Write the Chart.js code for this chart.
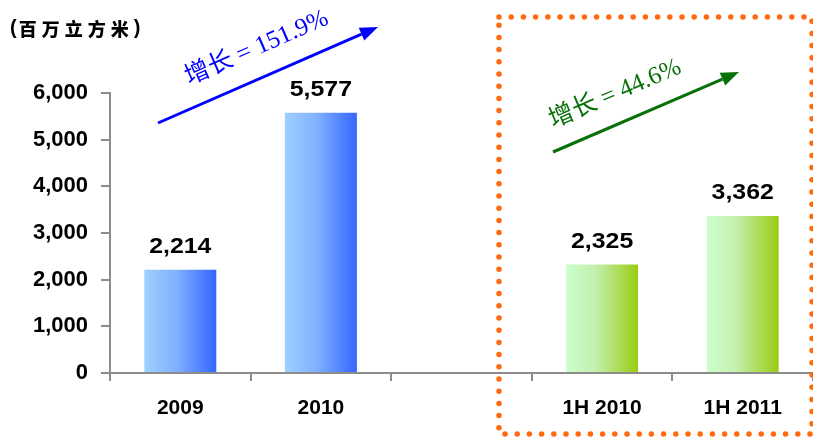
<!DOCTYPE html>
<html>
<head>
<meta charset="utf-8">
<script src="https://cdn.jsdelivr.net/npm/chart.js@4.4.1/dist/chart.umd.min.js"></script>
<style>
  html, body { margin: 0; padding: 0; background: #fff; }
  #wrap { position: relative; width: 813px; height: 437px; }
</style>
</head>
<body>
<div id="wrap"><canvas id="volChart" width="813" height="437"></canvas></div>
<script>
// 产量数据 (百万立方米)
const categories = ["2009", "2010", "", "1H 2010", "1H 2011"];
const volumes = [2214, 5577, null, 2325, 3362];
const yTicksMax = 6000;
const yTickStep = 1000;
const unitLabel = "(百万立方米)";
const growthLabels = ["增长 = 151.9%", "增长 = 44.6%"];

const BAR_PCT = 0.512;

// horizontal gradient per bar: blue for full years, green for half years
function barFill(ctx) {
    const chart = ctx.chart;
    const xs = chart.scales.x;
    if (!xs || !chart.chartArea) return "#6699ff";
    const cx = xs.getPixelForValue(ctx.dataIndex);
    const half = (xs.width / categories.length) * BAR_PCT / 2;
    const g = chart.ctx.createLinearGradient(cx - half, 0, cx + half, 0);
    if (ctx.dataIndex < 2) {
        g.addColorStop(0, "#9fd0ff");
        g.addColorStop(0.45, "#80b0ff");
        g.addColorStop(1, "#3366ff");
    } else {
        g.addColorStop(0, "#ccffcc");
        g.addColorStop(0.4, "#c4f0b0");
        g.addColorStop(1, "#99cc11");
    }
    return g;
}

function drawArrow(c, x0, y0, x1, y1, color) {
    const a = Math.atan2(y1 - y0, x1 - x0);
    const headLen = 18, headW = 7;
    const bx = x1 - headLen * Math.cos(a), by = y1 - headLen * Math.sin(a);
    c.save();
    c.strokeStyle = color;
    c.fillStyle = color;
    c.lineWidth = 3;
    c.beginPath();
    c.moveTo(x0, y0);
    c.lineTo(bx, by);
    c.stroke();
    c.beginPath();
    c.moveTo(x1, y1);
    c.lineTo(bx + headW * Math.sin(a), by - headW * Math.cos(a));
    c.lineTo(bx - headW * Math.sin(a), by + headW * Math.cos(a));
    c.closePath();
    c.fill();
    c.restore();
}

function drawSlanted(c, text, x, y, angle, color) {
    c.save();
    c.translate(x, y);
    c.rotate(angle);
    c.fillStyle = color;
    c.font = "25px 'Liberation Serif', 'Noto Sans CJK SC', serif";
    c.textAlign = "left";
    c.textBaseline = "alphabetic";
    c.fillText(text, 0, 0);
    c.restore();
}

const valueLabels = {
    id: "valueLabels",
    afterDatasetsDraw(chart) {
        const c = chart.ctx;
        const meta = chart.getDatasetMeta(0);
        c.save();
        c.fillStyle = "#000";
        c.font = "bold 22px 'Liberation Sans', Arial, sans-serif";
        c.textAlign = "center";
        c.textBaseline = "middle";
        meta.data.forEach((bar, i) => {
            const v = volumes[i];
            if (v == null) return;
            c.save();
            c.translate(bar.x, bar.y - 23);
            c.scale(1.13, 1);
            c.fillText(v.toLocaleString("en-US"), 0, 0);
            c.restore();
        });
        c.restore();
    }
};

const annotations = {
    id: "annotations",
    afterDraw(chart) {
        const c = chart.ctx;

        // unit caption, spaced out char by char
        c.save();
        c.fillStyle = "#000";
        c.textBaseline = "middle";
        c.textAlign = "left";
        let x = 10;
        for (const ch of unitLabel) {
            const paren = ch === "(" || ch === ")";
            c.font = paren ? "bold 20px 'Liberation Sans', sans-serif"
                           : "900 18px 'Noto Sans CJK SC', sans-serif";
            c.fillText(ch, x, paren ? 28 : 29);
            x += c.measureText(ch).width + (paren ? 2 : 5);
        }
        c.restore();

        // growth arrows
        drawArrow(c, 158, 123, 378, 27, "#0000ff");
        drawSlanted(c, growthLabels[0], 189, 85, Math.atan2(27 - 123, 378 - 158), "#0000ff");
        drawArrow(c, 553, 152, 739, 72, "#087008");
        drawSlanted(c, growthLabels[1], 553, 128, Math.atan2(72 - 152, 739 - 553), "#087008");

        // dotted frame round the half-year figures
        c.save();
        c.strokeStyle = "#ff6a10";
        c.lineWidth = 5.5;
        c.lineCap = "round";
        c.setLineDash([0, 12.2]);
        c.strokeRect(499, 17, 313, 417);
        c.restore();
    }
};

new Chart(document.getElementById("volChart"), {
    type: "bar",
    data: {
        labels: categories,
        datasets: [{
            data: volumes,
            backgroundColor: barFill,
            borderWidth: 0,
            barPercentage: BAR_PCT,
            categoryPercentage: 1
        }]
    },
    options: {
        responsive: false,
        animation: false,
        devicePixelRatio: 1,
        layout: { padding: { top: 93, right: 0, bottom: 0, left: 0 } },
        plugins: {
            legend: { display: false },
            tooltip: { enabled: false }
        },
        scales: {
            x: {
                grid: { offset: true, drawOnChartArea: false, tickLength: 8, color: "#8c8c8c", lineWidth: 2 },
                border: { display: true, color: "#8c8c8c", width: 2 },
                ticks: {
                    color: "#000",
                    padding: 15,
                    font: { family: "'Liberation Sans', Arial, sans-serif", size: 21, weight: "bold" }
                },
                afterFit(s) { s.height = 64; }
            },
            y: {
                min: 0,
                max: yTicksMax,
                grid: { drawOnChartArea: false, tickLength: 9, color: "#8c8c8c", lineWidth: 2 },
                border: { display: true, color: "#8c8c8c", width: 2 },
                ticks: {
                    stepSize: yTickStep,
                    color: "#000",
                    padding: 13,
                    font: { family: "'Liberation Sans', Arial, sans-serif", size: 22, weight: "bold" },
                    callback: v => v.toLocaleString("en-US")
                },
                afterFit(s) { s.width = 110; }
            }
        }
    },
    plugins: [valueLabels, annotations]
});
</script>
</body>
</html>
